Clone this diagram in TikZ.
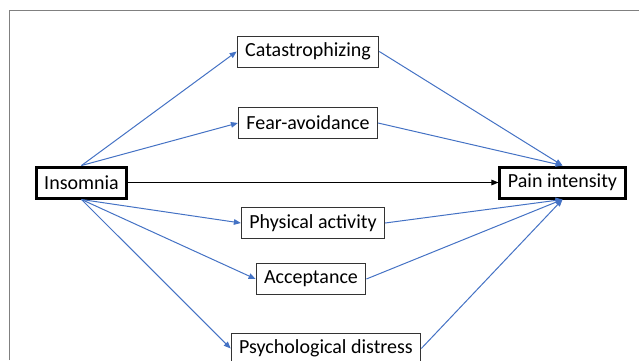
\documentclass[tikz,border=0pt]{standalone}
\usepackage{fontspec}
\setmainfont{Carlito}
\usetikzlibrary{arrows.meta}
\definecolor{linkblue}{HTML}{4472C4}
\begin{document}
\begin{tikzpicture}[x=0.5pt, y=-0.5pt,
		box/.style={draw=black!80, line width=0.5pt, inner xsep=4pt, inner ysep=0pt, minimum height=15.5pt, font=\fontsize{10}{12}\selectfont},
		endbox/.style={box, draw=black, line width=1.5pt},
		link/.style={draw=linkblue, line width=0.5pt, -{Triangle[length=3.5pt, width=2.8pt]}}]
		\useasboundingbox (0, 0) rectangle (639, 360);
		\draw [line width=0.5pt, color=gray] (9, 360) -- (9, 10) -- (639, 10);
		
		\node [endbox] (ins) at (81.5, 182.5) {Insomnia};
		\node [endbox] (pain) at (562.5, 182.5) {Pain intensity};
		
		\node [box] (cat) at (308, 51.5) {Catastrophizing};
		\node [box] (fear) at (308, 123) {Fear-avoidance};
		\node [box] (phys) at (313, 223) {Physical activity};
		\node [box] (acc) at (311, 279) {Acceptance};
		\node [box] (psy) at (326, 348.5) {Psychological distress};
		
		\draw [line width=0.5pt, -{Triangle[length=3.5pt, width=2.8pt]}] (ins) -- (pain);
		
		\draw [link] (ins.north) -- (cat.west);
		\draw [link] (ins.north) -- (fear.west);
		\draw [link] (ins.south) -- (phys.west);
		\draw [link] (ins.south) -- (acc.west);
		\draw [link] (ins.south) -- (psy.west);
		
		\draw [link] (cat.east) -- (pain.north);
		\draw [link] (fear.east) -- (pain.north);
		\draw [link] (phys.east) -- (pain.south);
		\draw [link] (acc.east) -- (pain.south);
		\draw [link] (psy.east) -- (pain.south); %last path
	\end{tikzpicture}
\end{document}
